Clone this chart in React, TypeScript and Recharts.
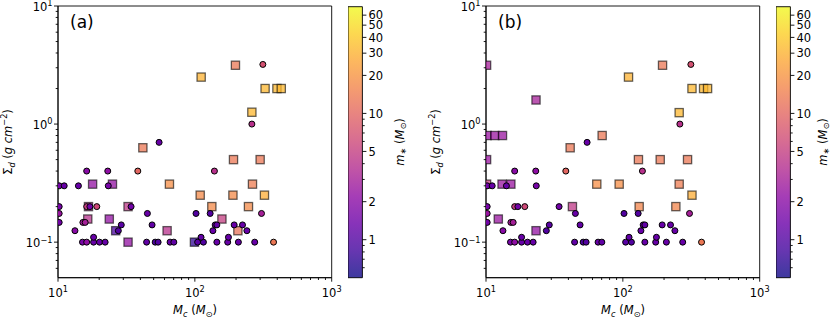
import React from 'react';
import { ScatterChart, Scatter, XAxis, YAxis, ComposedChart, ReferenceArea } from 'recharts';

// circles (same in both panels)
const circleMc = [
  15.1, 16.2, 18.2, 20.1, 22.1, 44.4, 51.3, 53.9, 65.9, 70.2, 104.8, 115.5, 144.8, 173.8, 208, 273.8, 375.8,
  18.2, 111, 176,
  13.3, 27.6, 135.5, 240,
  29, 48.7, 140.8, 144.8, 193.8, 223,
  10.2, 15.2, 15.8,
  10.2, 45, 102, 129.4, 307,
  10.2, 16.2, 17.1, 19.2, 34.2,
  10.2, 11.1, 14.1, 23.3,
  16.2, 23.1, 38.3, 139,
  54.8, 261, 314,
];
const circleSigma = [
  0.1, 0.1, 0.1, 0.1, 0.1, 0.1, 0.1, 0.1, 0.1, 0.1, 0.1, 0.1, 0.1, 0.1, 0.1, 0.1, 0.1,
  0.11, 0.11, 0.11,
  0.125, 0.125, 0.125, 0.125,
  0.14, 0.14, 0.14, 0.14, 0.14, 0.14,
  0.147, 0.147, 0.147,
  0.175, 0.175, 0.175, 0.175, 0.175,
  0.2, 0.2, 0.2, 0.2, 0.2,
  0.3, 0.3, 0.3, 0.3,
  0.4, 0.4, 0.4, 0.4,
  0.7, 1.0, 3.2,
];
const circleMstar = [
  1.6, 2.2, 1.3, 1.3, 1.3, 1.2, 0.95, 1.0, 1.3, 1.2, 1.1, 1.0, 1.3, 1.3, 1.3, 1.3, 13,
  1.3, 1.2, 1.3,
  2.0, 1.0, 1.3, 1.3,
  1.1, 1.2, 1.2, 1.2, 1.3, 1.3,
  1.5, 3, 3,
  2.5, 1.3, 1.0, 1.0, 3,
  1.6, 5, 1.5, 6, 1.5,
  1.5, 1.3, 1.3, 1.6,
  2, 2.2, 10, 4,
  1.3, 4, 7,
];

// squares, panel (a)
const squareAMc = [111.2, 198, 326, 398, 428, 261, 41.7, 191.6, 300, 263.7, 65.2, 109.4, 189.8, 322.6, 133.1, 246.5, 206.3, 157.7, 17.9, 25, 16.7, 32.5, 16.5, 23.7, 26.4, 32.5, 62.7, 99.3];
const squareASigma = [2.5, 3.15, 2, 2, 2, 1.26, 0.63, 0.5, 0.5, 0.31, 0.31, 0.25, 0.25, 0.25, 0.2, 0.2, 0.125, 0.157, 0.31, 0.31, 0.2, 0.2, 0.157, 0.157, 0.125, 0.1, 0.125, 0.1];
const squareAMstar = [30, 13, 32, 32, 32, 32, 13, 13, 13, 14, 18, 17, 17, 28, 17, 17, 12, 5, 2.3, 2.3, 4, 4.5, 4, 2.3, 0.9, 2.3, 4, 0.7];

// squares, panel (b)
const squareBMc = [10.1, 23.2, 10.2, 11.6, 13.2, 41.2, 70.6, 110, 195, 130, 187.5, 297, 258, 320, 389, 416, 64.5, 94, 258, 320, 131.6, 244, 10.1, 10.1, 13.1, 15.2, 42.8, 12.3, 23.2];
const squareBSigma = [3.15, 1.6, 0.8, 0.8, 0.8, 0.63, 0.8, 2.5, 3.15, 0.5, 0.5, 0.5, 1.25, 2, 2, 2, 0.31, 0.31, 0.31, 0.25, 0.2, 0.2, 0.5, 0.31, 0.31, 0.31, 0.2, 0.157, 0.125];
const squareBMstar = [3, 3, 2.5, 2.5, 2.5, 13, 13, 30, 13, 13, 13, 13, 32, 32, 32, 32, 18, 18, 14, 28, 16, 16, 2.5, 5, 2.5, 2.5, 4.5, 2.5, 2.3];

const xMajorTicks = [10, 100, 1000];
const xMinorTicks = [20, 30, 40, 50, 60, 70, 80, 90, 200, 300, 400, 500, 600, 700, 800, 900];
const yMajorTicks = [0.1, 1, 10];
const yMinorTicks = [0.06, 0.07, 0.08, 0.09, 0.2, 0.3, 0.4, 0.5, 0.6, 0.7, 0.8, 0.9, 2, 3, 4, 5, 6, 7, 8, 9];
const cbarMajorTicks = [1, 2, 5, 10, 20, 30, 40, 50, 60];
const cbarMinorTicks = [0.6, 0.7, 0.8, 0.9, 3, 4, 6, 7, 8, 9];

const M_MIN = 0.5;
const M_MAX = 70;
const FONT = 'DejaVu Sans';
const FS = 11.5;

const plasmaStops = ['#0d0887', '#41049d', '#6a00a8', '#8f0da4', '#b12a90', '#cc4778', '#e16462', '#f2844b', '#fca636', '#fcce25', '#f0f921'];

function plasma(t: number) {
  const c = Math.max(0, Math.min(1, t)) * 10;
  const i = Math.min(9, Math.floor(c));
  const f = c - i;
  const a = plasmaStops[i], b = plasmaStops[i + 1];
  const ch = (s: string, k: number) => parseInt(s.slice(1 + 2 * k, 3 + 2 * k), 16);
  const mix = [0, 1, 2].map((k) => Math.round(ch(a, k) + (ch(b, k) - ch(a, k)) * f));
  return `rgb(${mix[0]},${mix[1]},${mix[2]})`;
}

const mColor = (m: number) => plasma((Math.log10(m) - Math.log10(M_MIN)) / (Math.log10(M_MAX) - Math.log10(M_MIN)));

const build = (mc: number[], sig: number[], ms: number[]) => mc.map((x, i) => ({ x, y: sig[i], m: ms[i] }));
const circles = build(circleMc, circleSigma, circleMstar);
const squaresA = build(squareAMc, squareASigma, squareAMstar);
const squaresB = build(squareBMc, squareBSigma, squareBMstar);

const CircleDot = (props: any) => {
  const { cx, cy, payload } = props;
  return <circle cx={cx} cy={cy} r={3} fill={mColor(payload.m)} stroke="#000" strokeWidth={1} />;
};

const SquareDot = (props: any) => {
  const { cx, cy, payload } = props;
  const s = 8.2;
  return (
    <rect x={cx - s / 2} y={cy - s / 2} width={s} height={s} fill={mColor(payload.m)} fillOpacity={0.75}
      stroke="#000" strokeOpacity={0.6} strokeWidth={1.3} />
  );
};

const Pow = ({ x, y, v, anchor }: { x: number; y: number; v: number; anchor: string }) => {
  const e = Math.round(Math.log10(v));
  return (
    <text x={x} y={y} textAnchor={anchor} fontFamily={FONT} fontSize={FS} fill="#000">
      10<tspan dy={-4.6} fontSize={8.2}>{e < 0 ? '\u2212' + -e : e}</tspan>
    </text>
  );
};

const XTick = (props: any) => {
  const { x, y, payload } = props;
  const major = xMajorTicks.includes(payload.value);
  return (
    <g>
      <line x1={x} x2={x} y1={y} y2={y + (major ? 4 : 2.3)} stroke="#000" strokeWidth={0.9} />
      {major && <Pow x={x} y={y + 19} v={payload.value} anchor="middle" />}
    </g>
  );
};

const YTick = (props: any) => {
  const { x, y, payload } = props;
  const major = yMajorTicks.includes(payload.value);
  return (
    <g>
      <line x1={x} x2={x - (major ? 4 : 2.3)} y1={y} y2={y} stroke="#000" strokeWidth={0.9} />
      {major && <Pow x={x - 5.5} y={y + 5} v={payload.value} anchor="end" />}
    </g>
  );
};

const CTick = (props: any) => {
  const { x, y, payload } = props;
  const major = cbarMajorTicks.includes(payload.value);
  return (
    <g>
      <line x1={x} x2={x + (major ? 4 : 2.3)} y1={y} y2={y} stroke="#000" strokeWidth={0.9} />
      {major && (
        <text x={x + 6} y={y + 4.2} fontFamily={FONT} fontSize={FS} fill="#000">{payload.value}</text>
      )}
    </g>
  );
};

function Panel({ left, squares }: { left: number; squares: any[] }) {
  const W = 345;
  return (
    <div style={{ position: 'absolute', left, top: 0 }}>
      <ScatterChart width={W} height={317} margin={{ top: 6, left: 8, right: W - 331.7, bottom: 9.3 }}>
        <XAxis dataKey="x" type="number" scale="log" domain={[10, 1000]} allowDataOverflow
          ticks={[...xMajorTicks, ...xMinorTicks]} interval={0} height={30} tickLine={false} tickSize={0} tickMargin={0}
          axisLine={{ stroke: '#000', strokeWidth: 0.9 }} tick={<XTick />} />
        <YAxis dataKey="y" type="number" scale="log" domain={[0.05, 10]} allowDataOverflow
          ticks={[...yMajorTicks, ...yMinorTicks]} interval={0} width={50} tickLine={false} tickSize={0} tickMargin={0}
          axisLine={{ stroke: '#000', strokeWidth: 0.9 }} tick={<YTick />} />
        <ReferenceArea x1={10} x2={1000} y1={0.05} y2={10} fill="none" stroke="#000" strokeWidth={0.9} />
        <Scatter data={squares} shape={<SquareDot />} isAnimationActive={false} />
        <Scatter data={circles} shape={<CircleDot />} isAnimationActive={false} />
      </ScatterChart>
    </div>
  );
}

function Colorbar({ left, width, gid }: { left: number; width: number; gid: string }) {
  const bw = 14.4;
  const aw = width - bw - 1;
  return (
    <div style={{ position: 'absolute', left, top: 0 }}>
      <ComposedChart width={width} height={317} data={[{ x: 0 }, { x: 1 }]}
        margin={{ top: 6.7, left: 0, right: 1, bottom: 39.3 }}>
        <XAxis dataKey="x" type="number" domain={[0, 1]} hide />
        <YAxis type="number" scale="log" domain={[M_MIN, M_MAX]} allowDataOverflow orientation="right"
          ticks={[...cbarMajorTicks, ...cbarMinorTicks]} interval={0} width={aw} tickLine={false} tickSize={0}
          tickMargin={0} axisLine={false} tick={<CTick />} />
        <ReferenceArea y1={M_MIN} y2={M_MAX} fill={`url(#${gid})`} fillOpacity={1} stroke="none" ifOverflow="visible" />
        <ReferenceArea y1={M_MIN} y2={M_MAX} fill="none" stroke="#000" strokeWidth={0.9} ifOverflow="visible" />
      </ComposedChart>
    </div>
  );
}

const Gradient = ({ id }: { id: string }) => (
  <linearGradient id={id} x1="0" y1="1" x2="0" y2="0">
    {plasmaStops.map((c, i) => (
      <stop key={i} offset={i / 10} stopColor={c} stopOpacity={0.8} />
    ))}
  </linearGradient>
);

function Titles({ ox, tag, cbx }: { ox: number; tag: string; cbx: number }) {
  const sub = 8.2;
  return (
    <g fontFamily={FONT} fill="#000" style={{ whiteSpace: 'pre' }}>
      <text x={ox + 70} y={27.7} fontSize={17}>{tag}</text>
      <text x={ox + 195} y={314} fontSize={FS} textAnchor="middle">
        <tspan fontStyle="italic">M</tspan>
        <tspan fontStyle="italic" fontSize={sub} dy={2.5}>c</tspan>
        <tspan dy={-2.5}> (</tspan>
        <tspan fontStyle="italic">M</tspan>
        <tspan fontSize={sub} dy={2.5}>⊙</tspan>
        <tspan dy={-2.5}>)</tspan>
      </text>
      <text x={ox + 12} y={142} fontSize={FS} textAnchor="middle" transform={`rotate(-90, ${ox + 12}, 142)`}>
        <tspan>Σ</tspan>
        <tspan fontStyle="italic" fontSize={sub} dy={2.5}>d</tspan>
        <tspan dy={-2.5}> (</tspan>
        <tspan fontStyle="italic">g cm</tspan>
        <tspan fontSize={sub} dy={-5}>−2</tspan>
        <tspan dy={5}>)</tspan>
      </text>
      <text x={cbx} y={142} fontSize={FS} textAnchor="middle" transform={`rotate(-90, ${cbx}, 142)`}>
        <tspan fontStyle="italic">m</tspan>
        <tspan fontSize={sub} dy={2.5}>∗</tspan>
        <tspan dy={-2.5}> (</tspan>
        <tspan fontStyle="italic">M</tspan>
        <tspan fontSize={sub} dy={2.5}>⊙</tspan>
        <tspan dy={-2.5}>)</tspan>
      </text>
    </g>
  );
}

export default function App() {
  return (
    <div style={{ position: 'absolute', left: 0, top: 0, width: 830, height: 317, background: '#fff', overflow: 'hidden' }}>
      <Panel left={0} squares={squaresA} />
      <Panel left={428} squares={squaresB} />
      <Colorbar left={348.3} width={81} gid="cbarA" />
      <Colorbar left={775.7} width={54.3} gid="cbarB" />
      <svg width={830} height={317} style={{ position: 'absolute', left: 0, top: 0, pointerEvents: 'none' }}>
        <defs>
          <Gradient id="cbarA" />
          <Gradient id="cbarB" />
        </defs>
        <Titles ox={0} tag="(a)" cbx={403.7} />
        <Titles ox={428} tag="(b)" cbx={826.5} />
      </svg>
    </div>
  );
}
